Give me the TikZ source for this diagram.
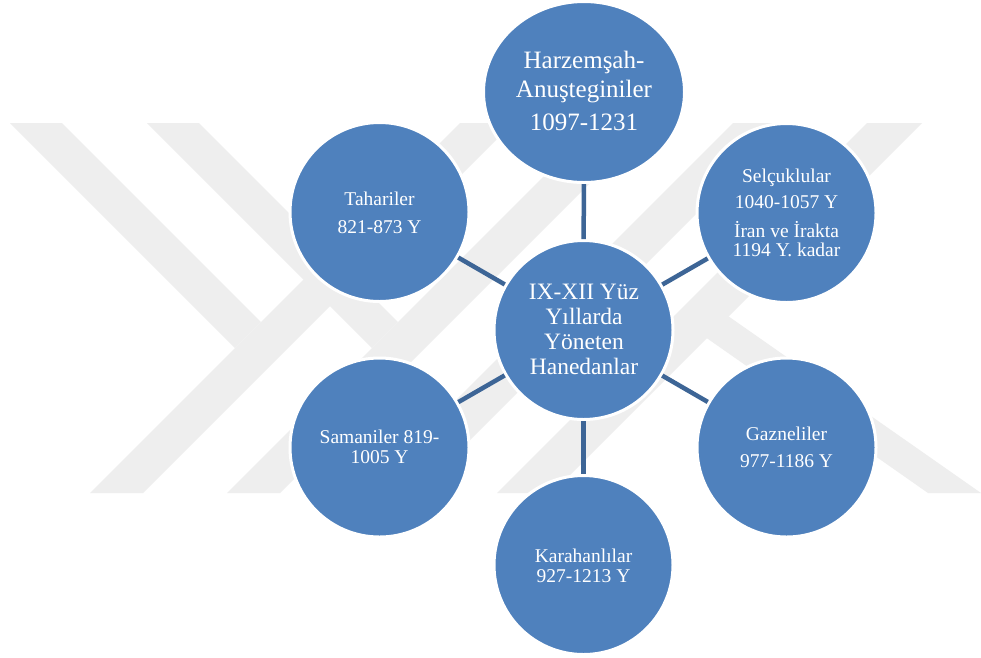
\documentclass[tikz,border=0pt]{standalone}
\usepackage{fontspec}
\setmainfont{Liberation Serif}
\usetikzlibrary{shapes.geometric}
\definecolor{wm}{HTML}{EEEEEE}
\definecolor{nodeblue}{HTML}{4F81BD}
\definecolor{linkblue}{HTML}{3D6596}
\newcommand\wfont{\fontsize{19.5}{20}\selectfont}
\newcommand\wbig{\fontsize{25}{29}\selectfont}
\newcommand\wmid{\fontsize{23.5}{25.3}\selectfont}
\begin{document}
\begin{tikzpicture}[x=1pt,y=-1pt,
  bubble/.style={circle, fill=nodeblue, draw=white, line width=3pt, minimum size=179pt, inner sep=0pt},
  topbubble/.style={ellipse, fill=nodeblue, draw=white, line width=3pt, minimum width=201pt, minimum height=181pt, inner sep=0pt},
  txt/.style={text=white, inner sep=0pt, anchor=base},
  link/.style={draw=linkblue, line width=4.5pt},
  band/.style={fill=wm}]
\useasboundingbox (0,0) rectangle (981,657);
\fill[white] (0,0) rectangle (981,657);
% watermark
\fill[band] (10,123) -- (62,123) -- (261,322) -- (235,348) -- cycle;
\fill[band] (90,493) -- (143,493) -- (513,123) -- (460,123) -- cycle;
\fill[band] (147,123) -- (199,123) -- (398,322) -- (372,348) -- cycle;
\fill[band] (227,493) -- (280,493) -- (650,123) -- (597,123) -- cycle;
\fill[band] (733,123) -- (787,123) -- (417,493) -- (363,493) -- cycle;
\fill[band] (867,123) -- (922,123) -- (552,493) -- (497,493) -- cycle;
\fill[band] (728.6,316.4) -- (981,493) -- (928,493) -- (674.5,315.5) -- cycle;
% circles
\node[topbubble] (h) at (584,92) {};
\node[bubble] (c) at (583.5,330) {};
\node[bubble] (t) at (379.5,212) {};
\node[bubble] (s) at (786.5,213) {};
\node[bubble] (m) at (379.5,447.5) {};
\node[bubble] (g) at (786.5,447.5) {};
\node[bubble] (k) at (583.5,565) {};
% connectors
\draw[link] (c) -- (h);
\draw[link] (c) -- (t);
\draw[link] (c) -- (s);
\draw[link] (c) -- (m);
\draw[link] (c) -- (g);
\draw[link] (c) -- (k);
% texts
\node[txt] (th) at (584,68) {\wbig\begin{tabular}[t]{@{}c@{}}Harzemşah-\\Anuşteginiler\\[4pt]1097-1231\end{tabular}};
\node[txt] (tc) at (584,299) {\wmid\begin{tabular}[t]{@{}c@{}}IX-XII Yüz\\Yıllarda\\Yöneten\\Hanedanlar\end{tabular}};
\node[txt] (tt) at (379.5,205) {\wfont\begin{tabular}[t]{@{}c@{}}Tahariler\\[8pt]821-873 Y\end{tabular}};
\node[txt] (ts) at (786.5,182) {\fontsize{19.5}{19}\selectfont\begin{tabular}[t]{@{}c@{}}Selçuklular\\[7pt]1040-1057 Y\\[10pt]\smash{İran ve İrakta}\\1194 Y. kadar\end{tabular}};
\node[txt] (tm) at (379.5,443) {\wfont\begin{tabular}[t]{@{}c@{}}Samaniler 819-\\1005 Y\end{tabular}};
\node[txt] (tg) at (786.5,440) {\wfont\begin{tabular}[t]{@{}c@{}}Gazneliler\\[7pt]977-1186 Y\end{tabular}};
\node[txt] (tk) at (583.5,562) {\wfont\begin{tabular}[t]{@{}c@{}}Karahanlılar\\927-1213 Y\end{tabular}};
\end{tikzpicture}
\end{document}
